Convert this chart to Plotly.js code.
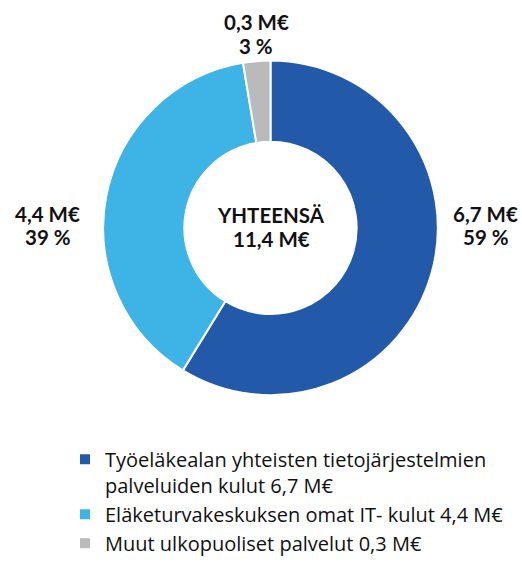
<!DOCTYPE html>
<html>
<head>
<meta charset="utf-8">
<script src="https://cdn.plot.ly/plotly-3.0.1.min.js"></script>
<style>html,body{margin:0;padding:0;background:#fff;}#chart{width:522px;height:563px;}</style>
</head>
<body>
<div id="chart"></div>
<script>
const categories = [
  "Työeläkealan yhteisten tietojärjestelmien<br>palveluiden kulut 6,7 M€",
  "Eläketurvakeskuksen omat IT- kulut 4,4 M€",
  "Muut ulkopuoliset palvelut 0,3 M€"
];
const values = [6.7, 4.4, 0.3];
const valueLabels = ["6,7 M€", "4,4 M€", "0,3 M€"];
const percentLabels = ["59 %", "39 %", "3 %"];
const colors = ["#2259A8", "#3DB3E6", "#BABABA"];
const totalLines = ["YHTEENSÄ", "11,4 M€"];

const labelPos = [
  {x: 485.5, y: 215.5},
  {x: 47.5, y: 215.5},
  {x: 256, y: 22.5}
];
const lineGap = 23.5;
const W = 522, H = 563;
const boldFont = {family: "Lato", size: 20.5, color: "#111", weight: "bold"};

function ann(text, x, y) {
  return {text: text, x: x / W, y: 1 - y / H, xref: "paper", yref: "paper",
    showarrow: false, xanchor: "center", yanchor: "middle", font: boldFont};
}
const annotations = [];
valueLabels.forEach((v, i) => {
  annotations.push(ann(v, labelPos[i].x, labelPos[i].y));
  annotations.push(ann(percentLabels[i], labelPos[i].x, labelPos[i].y + lineGap));
});
annotations.push(ann(totalLines[0], 271, 216.5));
annotations.push(ann(totalLines[1], 271, 240.5));

const cx = 270.5, cy = 229.5, R = 168.5;
const data = [{
  type: "pie",
  labels: categories,
  values: values,
  sort: false,
  direction: "clockwise",
  rotation: 0,
  hole: 0.515,
  textinfo: "none",
  marker: {colors: colors, line: {color: "#ffffff", width: 2}},
  domain: {x: [(cx - R) / W, (cx + R) / W], y: [1 - (cy + R) / H, 1 - (cy - R) / H]}
}];

const layout = {
  width: W, height: H,
  margin: {l: 0, r: 0, t: 0, b: 0},
  paper_bgcolor: "#fff",
  showlegend: true,
  legend: {
    x: 65 / W, xanchor: "left",
    y: 1 - 443 / H, yanchor: "top",
    valign: "top",
    font: {family: "Open Sans", size: 20, color: "#111"},
    tracegroupgap: 0,
    itemclick: false
  },
  annotations: annotations
};

Plotly.newPlot("chart", data, layout, {staticPlot: true});
</script>
</body>
</html>
